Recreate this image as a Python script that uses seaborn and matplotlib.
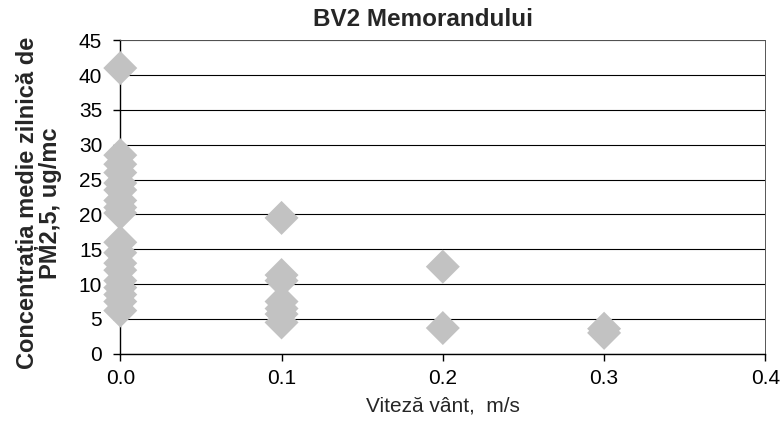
import numpy as np
import pandas as pd
import matplotlib
matplotlib.use("Agg")
import matplotlib.pyplot as plt
import seaborn as sns

# wind speed (m/s) and daily mean PM2.5 (ug/mc)
viteza_00 = [41, 28.5, 27.2, 26, 24.5, 23.5, 22, 21, 20.2,
             16, 14.5, 13, 12, 10.5, 9.5, 8.5, 7.5, 6.2]
viteza_01 = [19.5, 11.3, 10.5, 7.5, 6.5, 5.7, 4.5]
viteza_02 = [12.5, 3.7]
viteza_03 = [3.6, 3.0]

x_ticks = [0.0, 0.1, 0.2, 0.3, 0.4]
y_ticks = list(range(0, 50, 5))

df = pd.DataFrame({
    "viteza": [0.0] * len(viteza_00) + [0.1] * len(viteza_01)
              + [0.2] * len(viteza_02) + [0.3] * len(viteza_03),
    "pm25": viteza_00 + viteza_01 + viteza_02 + viteza_03,
})

sns.set_style("ticks")
plt.rcParams["font.family"] = ["Liberation Sans", "DejaVu Sans"]

fig = plt.figure(figsize=(7.81, 4.32), dpi=100)
ax = fig.add_axes([0.154, 0.181, 0.826, 0.726])

sns.scatterplot(data=df, x="viteza", y="pm25", marker="D", s=300,
                color="#c2c2c2", edgecolor="none", linewidth=0,
                clip_on=False, zorder=3, ax=ax)

ax.set_xlim(0, 0.4)
ax.set_ylim(0, 45)
ax.set_xticks(x_ticks)
ax.set_xticklabels([f"{v:.1f}" for v in x_ticks])
ax.set_yticks(y_ticks)

ax.yaxis.grid(True, color="black", linewidth=0.8)
ax.xaxis.grid(False)
for side in ["left", "bottom"]:
    ax.spines[side].set_color("black")
    ax.spines[side].set_linewidth(1.0)
for side in ["top", "right"]:
    ax.spines[side].set_color("#555555")
    ax.spines[side].set_linewidth(0.7)

ax.tick_params(axis="both", direction="out", length=5, width=1,
               color="black", labelsize=15, labelcolor="black")
ax.tick_params(axis="x", pad=6)
ax.tick_params(axis="y", pad=8)

ax.set_title("BV2 Memorandului", fontsize=17.5, fontweight="bold", pad=10, x=0.47)
ax.set_xlabel("Viteză vânt,  m/s", fontsize=15, labelpad=6)
ax.set_ylabel("Concentrația medie zilnică de\nPM2,5, ug/mc", fontsize=17,
              fontweight="bold", linespacing=1.0)
ax.yaxis.set_label_coords(-0.09, 0.48)

plt.savefig("out.png", dpi=100)
